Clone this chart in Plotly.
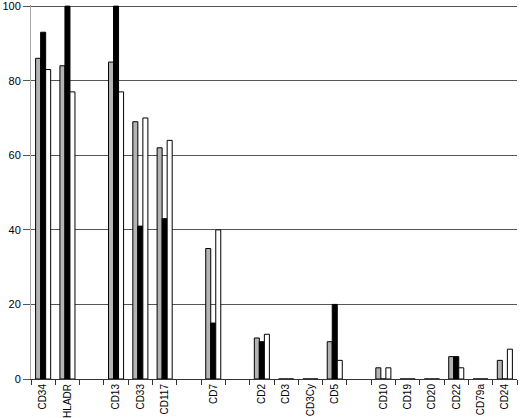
import plotly.graph_objects as go

# category slots (blank strings are empty gaps between groups)
categories = ["CD34", "HLADR", " ", "CD13", "CD33", "CD117", "  ", "CD7", "   ",
              "CD2", "CD3", "CD3Cy", "CD5", "    ", "CD10", "CD19", "CD20", "CD22",
              "CD79a", "CD24"]

gray_vals = [86, 84, None, 85, 69, 62, None, 35, None, 11, 0, 0, 10, None, 3, 0, 0, 6, 0, 5]
black_vals = [93, 100, None, 100, 41, 43, None, 15, None, 10, 0, 0, 20, None, 0, 0, 0, 6, 0, 0]
white_vals = [83, 77, None, 77, 70, 64, None, 40, None, 12, 0, 0, 5, None, 3, 0, 0, 3, 0, 8]

y_ticks = [0, 20, 40, 60, 80, 100]

SERIES = [
    ("gray", gray_vals, "#b4b4b4"),
    ("black", black_vals, "#000000"),
    ("white", white_vals, "#ffffff"),
]

fig = go.Figure()
for name, vals, color in SERIES:
    fig.add_trace(go.Bar(
        x=categories,
        y=vals,
        name=name,
        marker=dict(color=color, line=dict(color="#000000", width=1)),
    ))

fig.update_layout(
    width=520,
    height=418,
    barmode="group",
    bargap=0.38,
    bargroupgap=0,
    showlegend=False,
    plot_bgcolor="#FFFFFF",
    paper_bgcolor="#FFFFFF",
    font=dict(family="Arial, Liberation Sans, sans-serif", color="#000000", size=10),
    margin=dict(l=31, r=3, t=5, b=39, autoexpand=False),
)
fig.update_xaxes(
    type="category",
    categoryorder="array",
    categoryarray=categories,
    tickangle=-90,
    ticks="outside",
    tickson="boundaries",
    ticklen=5,
    tickcolor="#333333",
    showline=True,
    linecolor="#333333",
    linewidth=1,
    showgrid=False,
    automargin=False,
    tickfont=dict(size=10),
)
fig.update_yaxes(
    range=[0, 100.3],
    tickvals=y_ticks,
    ticks="outside",
    ticklen=7,
    tickcolor="#555555",
    showgrid=True,
    gridcolor="#555555",
    gridwidth=1,
    showline=True,
    linecolor="#aaaaaa",
    linewidth=1,
    zeroline=False,
    automargin=False,
    ticklabeloverflow="allow",
    tickfont=dict(size=11),
)

# drop the browser's default page margin so the chart fills the window
fig.write_html(
    "out.html",
    config={"displayModeBar": False},
    post_script="document.body.style.margin='0';",
)
